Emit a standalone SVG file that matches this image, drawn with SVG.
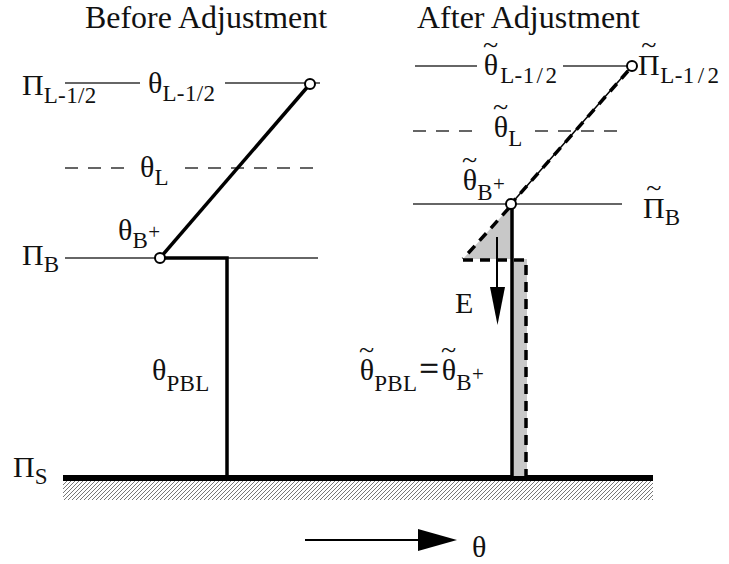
<svg xmlns="http://www.w3.org/2000/svg" width="729" height="564" viewBox="0 0 729 564">
<style>
text{font-family:"Liberation Serif","Times New Roman",serif;fill:#111;}
.t{font-size:31px;}
.m{font-size:30px;}
.s{font-size:23px;letter-spacing:0.4px;}
.p{font-size:21px;}
.tl{font-size:28px;}
.eq{font-size:34px;stroke:#111;stroke-width:0.6px;}
.thin{stroke:#333;stroke-width:1.3;fill:none;}
.dash{stroke:#333;stroke-width:1.3;fill:none;stroke-dasharray:13 10;}
.thick{stroke:#000;stroke-width:3.5;fill:none;}
.tdash{stroke:#000;stroke-width:3.5;fill:none;stroke-dasharray:10 7;}
.node{fill:#fff;stroke:#000;stroke-width:2;}
.grey{fill:#c8c8c8;stroke:none;}
</style>
<defs>
<pattern id="hatch" patternUnits="userSpaceOnUse" width="4" height="4">
<path d="M-1,1 L1,-1 M0,4 L4,0 M3,5 L5,3" stroke="#777" stroke-width="1"/>
</pattern>
</defs>

<g id="titles">
<text class="t" x="85" y="28" textLength="242" lengthAdjust="spacingAndGlyphs">Before Adjustment</text>
<text class="t" x="417" y="28" textLength="223" lengthAdjust="spacingAndGlyphs">After Adjustment</text>
</g>

<g id="ground">
<rect x="63" y="481" width="590" height="19" fill="url(#hatch)"/>
<line x1="63" y1="478" x2="653" y2="478" stroke="#000" stroke-width="6"/>
</g>

<g id="shading">
<polygon class="grey" points="511,206 463,259 511,259"/>
<rect class="grey" x="513" y="259" width="14" height="217"/>
</g>

<g id="connectors">
<line class="thin" x1="65" y1="83" x2="140" y2="83"/>
<line class="thin" x1="225" y1="83" x2="320" y2="83"/>
<line class="dash" x1="65" y1="168" x2="130" y2="168"/>
<line class="dash" x1="185" y1="168" x2="318" y2="168"/>
<line class="thin" x1="65" y1="258" x2="318" y2="258"/>
<line class="thick" x1="310" y1="84" x2="160" y2="258"/>
<polyline class="thick" points="160,258 227,258 227,476"/>
<line class="thin" x1="415" y1="66" x2="477" y2="66"/>
<line class="thin" x1="563" y1="66" x2="628" y2="66"/>
<line class="dash" x1="413" y1="131" x2="475" y2="131"/>
<line class="dash" x1="535" y1="131" x2="618" y2="131"/>
<line class="thin" x1="413" y1="204" x2="622" y2="204"/>
<line stroke="#000" stroke-width="1.5" x1="632" y1="66" x2="511" y2="204"/>
<line class="tdash" x1="628" y1="71" x2="511" y2="204"/>
<line class="thick" x1="512" y1="204" x2="512" y2="476"/>
<line class="tdash" x1="509" y1="208" x2="463" y2="259"/>
<polyline class="tdash" points="463,260 526,260 526,476"/>
<line stroke="#000" stroke-width="2" x1="497" y1="237" x2="497" y2="290"/>
<polygon points="490,287 505,287 497.5,325" fill="#000"/>
<line stroke="#000" stroke-width="2" x1="305" y1="540" x2="420" y2="540"/>
<polygon points="418,529 457,540 418,551" fill="#000"/>
</g>

<g id="nodes">
<circle class="node" cx="310" cy="84" r="5"/>
<circle class="node" cx="160" cy="258" r="5"/>
<circle class="node" cx="632" cy="66" r="5"/>
<circle class="node" cx="511" cy="204" r="5"/>
</g>

<g id="labels-left">
<text class="m" x="22" y="95">Π<tspan class="s" dy="8">L-1/2</tspan></text>
<text class="m" x="148" y="93">θ<tspan class="s" dy="8">L-1/2</tspan></text>
<text class="m" x="140" y="177">θ<tspan class="s" dy="8">L</tspan></text>
<text class="m" x="118" y="240">θ<tspan class="s" dy="8">B</tspan><tspan class="p" dy="-9">+</tspan></text>
<text class="m" x="22" y="265">Π<tspan class="s" dy="7">B</tspan></text>
<text class="m" x="152" y="380">θ<tspan class="s" dy="11">PBL</tspan></text>
<text class="m" x="13" y="477">Π<tspan class="s" dy="7">S</tspan></text>
</g>

<g id="labels-right">
<text class="m" x="483" y="75">θ<tspan class="tl" dx="-15" dy="-21">~</tspan><tspan class="s" dx="2" dy="29">L-1</tspan><tspan class="s" dx="2">/</tspan><tspan class="s" dx="2">2</tspan></text>
<text class="m" x="638" y="75">Π<tspan class="tl" dx="-18.5" dy="-21">~</tspan><tspan class="s" dx="4" dy="29">L-1</tspan><tspan class="s" dx="3">/</tspan><tspan class="s" dx="3">2</tspan></text>
<text class="m" x="493" y="137">θ<tspan class="tl" dx="-15" dy="-21">~</tspan><tspan class="s" dy="30">L</tspan></text>
<text class="m" x="462" y="190">θ<tspan class="tl" dx="-15" dy="-21">~</tspan><tspan class="s" dy="31">B</tspan><tspan class="p" dy="-9">+</tspan></text>
<text class="m" x="643" y="218">Π<tspan class="tl" dx="-18.5" dy="-21">~</tspan><tspan class="s" dx="3.5" dy="28">B</tspan></text>
<text class="m" x="455" y="313">E</text>
<text class="m" x="359" y="380">θ<tspan class="tl" dx="-15" dy="-21">~</tspan><tspan class="s" dy="32">PBL</tspan><tspan class="eq" dx="2" dy="-11">=</tspan><tspan dx="3">θ</tspan><tspan class="tl" dx="-15" dy="-21">~</tspan><tspan class="s" dy="31">B</tspan><tspan class="p" dy="-9">+</tspan></text>
<text class="m" x="472" y="557">θ</text>
</g>
</svg>
